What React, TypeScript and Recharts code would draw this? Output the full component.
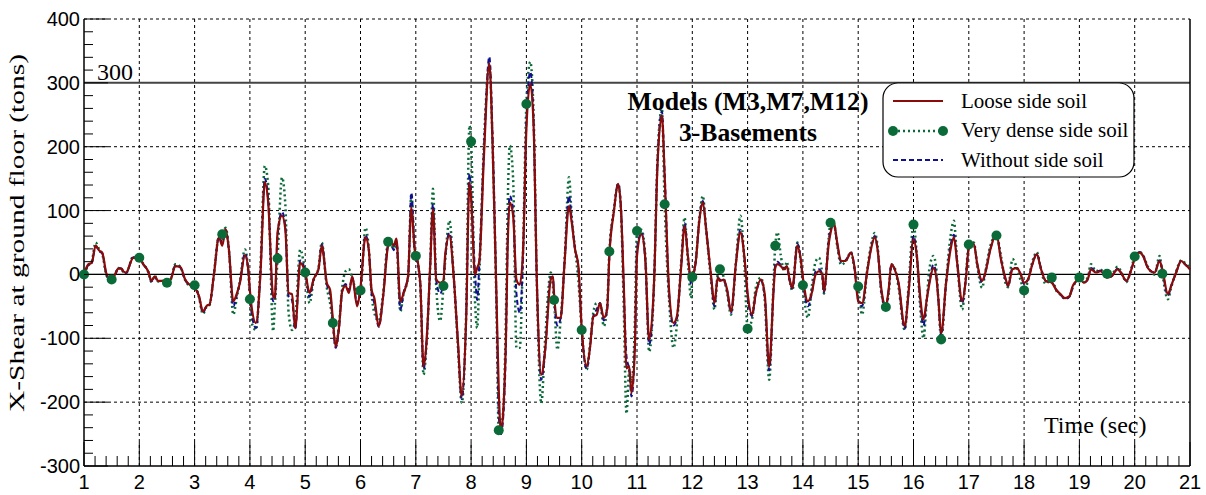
import React from 'react';
import { LineChart, Line, XAxis, YAxis, CartesianGrid, ReferenceLine } from 'recharts';

// time (sec), one row per second
const time = [
  1.0, 1.08, 1.14, 1.21, 1.28, 1.33, 1.41, 1.5, 1.56, 1.62, 1.68, 1.71, 1.76, 1.89,
  2.0, 2.07, 2.16, 2.22, 2.28, 2.34, 2.43, 2.5, 2.58, 2.65, 2.74, 2.83, 2.92,
  3.0, 3.08, 3.15, 3.22, 3.27, 3.35, 3.44, 3.5, 3.56, 3.62, 3.7, 3.76, 3.82, 3.91, 3.97,
  4.0, 4.03, 4.11, 4.19, 4.27, 4.33, 4.42, 4.45, 4.5, 4.58, 4.64, 4.7, 4.76, 4.82, 4.91,
  5.0, 5.08, 5.15, 5.24, 5.3, 5.39, 5.45, 5.5, 5.55, 5.61, 5.67, 5.73, 5.79, 5.85, 5.94,
  6.0, 6.09, 6.15, 6.2, 6.25, 6.33, 6.41, 6.5, 6.55, 6.6, 6.65, 6.72, 6.78, 6.86, 6.92, 6.98,
  7.0, 7.08, 7.14, 7.2, 7.26, 7.31, 7.37, 7.44, 7.5, 7.53, 7.61, 7.68, 7.76, 7.83, 7.91, 7.97,
  8.0, 8.07, 8.11, 8.15, 8.23, 8.33, 8.39, 8.46, 8.5, 8.54, 8.59, 8.63, 8.66, 8.7, 8.76, 8.82, 8.88, 8.94,
  9.0, 9.07, 9.13, 9.19, 9.27, 9.34, 9.44, 9.48, 9.5, 9.56, 9.62, 9.69, 9.77, 9.82, 9.88, 9.94,
  10.0, 10.09, 10.15, 10.21, 10.27, 10.33, 10.4, 10.46, 10.5, 10.58, 10.66, 10.71, 10.76, 10.81, 10.86, 10.9, 10.96,
  11.0, 11.08, 11.15, 11.22, 11.31, 11.37, 11.45, 11.5, 11.58, 11.66, 11.72, 11.8, 11.86, 11.92, 11.98,
  12.0, 12.06, 12.13, 12.19, 12.25, 12.34, 12.4, 12.46, 12.5, 12.57, 12.63, 12.7, 12.79, 12.87, 12.94,
  13.0, 13.08, 13.15, 13.24, 13.31, 13.39, 13.47, 13.5, 13.54, 13.6, 13.66, 13.71, 13.76, 13.81, 13.9, 13.96,
  14.0, 14.09, 14.16, 14.23, 14.29, 14.35, 14.38, 14.47, 14.5, 14.56, 14.62, 14.69, 14.77, 14.87, 14.93,
  15.0, 15.07, 15.16, 15.23, 15.3, 15.35, 15.42, 15.5, 15.55, 15.6, 15.66, 15.73, 15.84, 15.91,
  16.0, 16.06, 16.12, 16.18, 16.24, 16.29, 16.36, 16.41, 16.45, 16.5, 16.59, 16.67, 16.73, 16.79, 16.88, 16.94,
  17.0, 17.09, 17.15, 17.24, 17.3, 17.39, 17.5, 17.58, 17.67, 17.71, 17.79, 17.87, 17.94,
  18.0, 18.07, 18.15, 18.23, 18.3, 18.39, 18.5, 18.58, 18.66, 18.74, 18.82, 18.88, 18.97,
  19.0, 19.08, 19.15, 19.21, 19.3, 19.38, 19.45, 19.5, 19.58, 19.69, 19.75, 19.85, 19.94,
  20.0, 20.09, 20.15, 20.24, 20.36, 20.45, 20.5, 20.6, 20.66, 20.75, 20.84, 20.91, 21.0,
];

// Loose side soil
const loose = [
  0, 16, 18, 45, 37, 34, 0, -8, 0, 9, 9, 5, 3, 26,
  26, 16, 5, -10, -3, -10, -10, -13, -5, 13, 12, -8, -17,
  -21, -34, -58, -49, -47, 0, 58, 45, 71, 39, -42, -31, -13, 30, 8,
  -25, -50, -76, 0, 144, 113, -34, -37, 66, 92, 71, -29, -31, -84, 18,
  3, -29, -8, 8, 45, -13, -24, -70, -113, -84, -26, -18, -29, -3, -50,
  -20, 58, 39, -24, -37, -81, -34, 45, 52, 45, 56, -42, -29, -3, 105, 39,
  34, -13, -144, -97, 13, 102, -8, -13, -10, 29, 61, 3, -102, -191, -71, 144,
  120, 0, 10, 21, 181, 330, 197, -39, -180, -246, -200, -100, 39, 113, 92, -8, -16, 39,
  228, 299, 233, -13, -157, -118, -8, -3, -30, -68, -68, 18, 107, 81, 39, 13,
  -84, -144, -115, -66, -63, -45, -68, -55, 29, 97, 142, 102, -13, -147, -144, -186, -118,
  29, 63, 24, -102, -8, 170, 249, 155, -24, -76, -66, 13, 76, 29, -10,
  -5, 18, 86, 113, 71, -3, -45, -5, -10, -8, -24, -58, 18, 66, 29,
  -29, -63, -29, -8, -31, -144, -24, 10, 16, 13, 8, 13, -8, -21, 45, 24,
  -5, -42, -29, 0, 5, 0, -26, 50, 65, 81, 50, 21, 21, 34, 13,
  -42, -45, 3, 39, 58, 39, -24, -50, -24, 16, 8, -13, -81, -29,
  55, 29, -34, -71, -39, -13, 10, -3, -39, -92, -13, 39, 58, 18, -42, -13,
  40, 48, 18, -10, 3, 39, 63, 24, -8, -18, 8, 10, 0,
  -13, -8, 16, 32, 10, -10, -13, -24, -31, -37, -34, -18, -8,
  -5, -13, -8, 8, 3, 5, 0, -5, -3, 8, 3, -10, 8,
  24, 34, 29, 10, 3, 21, 8, -31, -18, 3, 21, 16, 8,
];

// Very dense side soil
const dense = [
  0, 14, 20, 50, 38, 32, -2, -8, 0, 10, 8, 4, 2, 28,
  26, 17, 4, -12, -2, -11, -11, -13, -6, 16, 12, -9, -18,
  -17, -36, -62, -50, -48, 2, 60, 63, 73, 40, -63, -38, -10, 39, 5,
  -39, -75, -87, 10, 170, 140, -89, -50, 25, 152, 110, -60, -87, -70, 39,
  3, -45, -10, 10, 50, -20, -45, -76, -113, -80, -20, 5, 8, -5, -30,
  -25, 73, 40, -30, -60, -73, -30, 51, 48, 40, 50, -58, -30, -5, 126, 35,
  29, -15, -157, -100, 15, 134, -20, -73, -18, 20, 84, 5, -110, -201, -60, 233,
  208, -40, -84, 0, 200, 330, 200, -60, -244, -240, -200, -60, 100, 202, 150, -115, -115, 40,
  267, 333, 250, -20, -202, -100, 3, -20, -40, -118, -70, 20, 152, 90, 40, -10,
  -87, -149, -110, -60, -45, -45, -81, -50, 36, 100, 142, 100, -50, -218, -150, -170, -80,
  68, 70, 30, -121, -10, 180, 260, 110, -40, -115, -80, 20, 89, 20, -37,
  -4, 20, 90, 123, 70, -10, -55, 0, 8, -5, -30, -63, 20, 92, 20,
  -85, -70, -20, -5, -40, -165, -10, 45, 66, 30, 5, 20, -10, -25, 50, 20,
  -17, -68, -20, 20, 26, 0, -30, 60, 81, 80, 45, 15, 20, 35, 10,
  -19, -63, 5, 45, 65, 45, -30, -51, -30, 15, 10, -20, -87, -20,
  78, 30, -50, -100, -40, 10, 29, 10, -40, -102, -10, 60, 84, 20, -55, -10,
  47, 50, 15, -21, 5, 45, 61, 30, -15, -20, 24, 10, -10,
  -25, -10, 20, 35, 10, -15, -5, -25, -32, -38, -34, -20, -8,
  -5, -12, -5, 16, 5, 8, 2, 1, 0, 12, 5, -12, 10,
  28, 35, 30, 12, 0, 29, 1, -39, -20, 5, 22, 18, 10,
];

// Without side soil
const without = [
  -3, 15, 18, 44, 36, 33, -2, -9, -2, 10, 9, 4, 2, 27,
  25, 16, 5, -11, -4, -11, -10, -14, -5, 14, 11, -9, -17,
  -20, -35, -60, -49, -47, 0, 59, 50, 70, 38, -50, -33, -12, 33, 6,
  -30, -60, -84, 0, 150, 118, -42, -40, 60, 98, 75, -35, -40, -86, 22,
  5, -35, -8, 8, 47, -15, -30, -75, -115, -85, -26, -15, -25, -5, -45,
  -22, 62, 38, -28, -45, -82, -34, 46, 50, 38, 52, -55, -28, -3, 128, 40,
  30, -12, -148, -98, 13, 110, -10, -30, -12, 25, 65, 3, -105, -195, -70, 157,
  130, 5, -40, 20, 190, 341, 210, -45, -220, -250, -210, -110, 50, 123, 100, -30, -60, 30,
  240, 317, 240, -15, -165, -118, -5, -5, -35, -80, -68, 20, 123, 85, 40, 10,
  -86, -148, -115, -66, -55, -45, -72, -55, 30, 98, 142, 105, -20, -128, -150, -191, -115,
  40, 65, 22, -110, -8, 175, 255, 160, -30, -80, -70, 15, 80, 30, -15,
  -8, 18, 88, 115, 72, -5, -50, -5, -8, -10, -25, -60, 18, 70, 30,
  -35, -65, -30, -10, -35, -150, -25, 15, 20, 15, 10, 12, -10, -22, 48, 25,
  -8, -50, -30, 5, 8, 0, -28, 55, 70, 78, 48, 20, 22, 34, 12,
  -40, -50, 3, 40, 60, 40, -28, -52, -25, 15, 8, -15, -85, -30,
  60, 30, -40, -80, -40, -10, 15, 0, -40, -95, -12, 45, 62, 18, -45, -12,
  42, 48, 18, -12, 3, 40, 62, 25, -10, -18, 10, 10, 0,
  -15, -8, 16, 32, 12, -10, -12, -24, -32, -38, -35, -20, -8,
  -6, -13, -8, 10, 4, 6, 0, -5, -3, 9, 3, -10, 8,
  25, 35, 30, 10, 3, 22, 6, -33, -18, 3, 21, 16, 8,
];

const xGrid = [2, 3, 4, 5, 6, 7, 8, 9, 10, 11, 12, 13, 14, 15, 16, 17, 18, 19, 20];
const yGrid = [-200, -100, 100, 200, 400];
// minor ticks every 0.2 s and every 20 tons
const xTicks = Array.from({ length: 101 }, (_, i) => Math.round((1 + i * 0.2) * 10) / 10);
const yTicks = Array.from({ length: 36 }, (_, i) => -300 + i * 20);

const data = time.map((t, i) => ({ t, loose: loose[i], dense: dense[i], without: without[i] }));

const RED = '#8b0a0a';
const GREEN = '#0b6b38';
const BLUE = '#10108f';
const SANS = '"Liberation Sans", Arial, sans-serif';
const SERIF = '"Liberation Serif", "Times New Roman", serif';

function XTick({ x, y, payload }: any) {
    const v = payload.value;
    const major = Math.abs(v - Math.round(v)) < 1e-6;
    return (
        <g>
            <line x1={x} y1={y} x2={x} y2={y - (major ? 24 : 10)} stroke="#000" strokeWidth={1} />
            {major && (
                <text x={x} y={y + 23} textAnchor="middle" fontSize={20} fontFamily={SANS} fill="#000">
                    {Math.round(v)}
                </text>
            )}
        </g>
    );
}

function YTick({ x, y, payload }: any) {
    const v = payload.value;
    const major = v % 100 === 0;
    return (
        <g>
            <line x1={x} y1={y} x2={x + (major ? 24 : 9)} y2={y} stroke="#000" strokeWidth={1} />
            {major && (
                <text x={x - 4} y={y + 7} textAnchor="end" fontSize={20} fontFamily={SANS} fill="#000">
                    {v}
                </text>
            )}
        </g>
    );
}

function Marker(props: any) {
    const { cx, cy, payload, index } = props;
    const half = payload.t * 2;
    if (payload.t >= 21 || Math.abs(half - Math.round(half)) > 1e-6) return <g key={`m${index}`} />;
    return <circle key={`m${index}`} cx={cx} cy={cy} r={5} fill={GREEN} />;
}

export default function App() {
    return (
        <div style={{ position: 'absolute', left: 0, top: 0, width: 1206, height: 495, background: '#fff' }}>
            <LineChart width={1206} height={495} data={data} margin={{ top: 19, right: 16, bottom: 0, left: 0 }}>
                <CartesianGrid
                    horizontalValues={yGrid}
                    verticalValues={xGrid}
                    stroke="#000"
                    strokeDasharray="3 3"
                    strokeWidth={1}
                />
                <XAxis
                    type="number"
                    dataKey="t"
                    domain={[1, 21]}
                    ticks={xTicks}
                    interval={0}
                    tickLine={false}
                    tickSize={0}
                    tickMargin={0}
                    tick={<XTick />}
                    axisLine={{ stroke: '#000', strokeWidth: 1.5 }}
                    height={29}
                />
                <YAxis
                    type="number"
                    domain={[-300, 400]}
                    ticks={yTicks}
                    interval={0}
                    tickLine={false}
                    tickSize={0}
                    tickMargin={0}
                    tick={<YTick />}
                    axisLine={{ stroke: '#000', strokeWidth: 1.5 }}
                    width={84}
                />
                <ReferenceLine y={0} stroke="#000" strokeWidth={1.2} />
                <ReferenceLine y={300} stroke="#444" strokeWidth={2} />
                <ReferenceLine x={21} stroke="#000" strokeWidth={1.5} />
                <Line type="monotone" dataKey="dense" stroke={GREEN} strokeWidth={2.5} strokeDasharray="2 3"
                    dot={false} activeDot={false} isAnimationActive={false} />
                <Line type="monotone" dataKey="without" stroke={BLUE} strokeWidth={2} strokeDasharray="5 3"
                    dot={false} activeDot={false} isAnimationActive={false} />
                <Line type="monotone" dataKey="loose" stroke={RED} strokeWidth={2.2}
                    dot={false} activeDot={false} isAnimationActive={false} />
                <Line type="monotone" dataKey="dense" stroke="none" dot={Marker}
                    activeDot={false} isAnimationActive={false} legendType="none" />
            </LineChart>
            <svg width={1206} height={495} style={{ position: 'absolute', left: 0, top: 0, pointerEvents: 'none' }}>
                <text transform="translate(24,233) rotate(-90)" textAnchor="middle" fontSize={22} fontFamily={SERIF}
                    textLength={358} lengthAdjust="spacingAndGlyphs" fill="#000">
                    X-Shear at ground floor (tons)
                </text>
                <text x={97} y={80} fontSize={24} fontFamily={SERIF} fill="#000">300</text>
                <text x={748} y={110} textAnchor="middle" fontSize={26} fontWeight="bold" fontFamily={SERIF}
                    textLength={241} lengthAdjust="spacingAndGlyphs" fill="#000">
                    Models (M3,M7,M12)
                </text>
                <text x={748} y={141} textAnchor="middle" fontSize={26} fontWeight="bold" fontFamily={SERIF}
                    textLength={138} lengthAdjust="spacingAndGlyphs" fill="#000">
                    3-Basements
                </text>
                <text x={1044} y={433} fontSize={24} fontFamily={SERIF} fill="#000">Time (sec)</text>
                <rect x={883} y={83} width={251} height={94} rx={15} ry={15} fill="#fff" stroke="#000" strokeWidth={1.2} />
                <line x1={893} y1={101} x2={943} y2={101} stroke={RED} strokeWidth={2.2} />
                <text x={961} y={108} fontSize={21} fontFamily={SERIF} fill="#000">Loose side soil</text>
                <line x1={893} y1={131} x2={943} y2={131} stroke={GREEN} strokeWidth={2.5} strokeDasharray="2 3" />
                <circle cx={893} cy={131} r={5} fill={GREEN} />
                <circle cx={943} cy={131} r={5} fill={GREEN} />
                <text x={961} y={137} fontSize={21} fontFamily={SERIF} fill="#000">Very dense side soil</text>
                <line x1={893} y1={160} x2={943} y2={160} stroke={BLUE} strokeWidth={2} strokeDasharray="5 3" />
                <text x={961} y={167} fontSize={21} fontFamily={SERIF} fill="#000">Without side soil</text>
            </svg>
        </div>
    );
}
